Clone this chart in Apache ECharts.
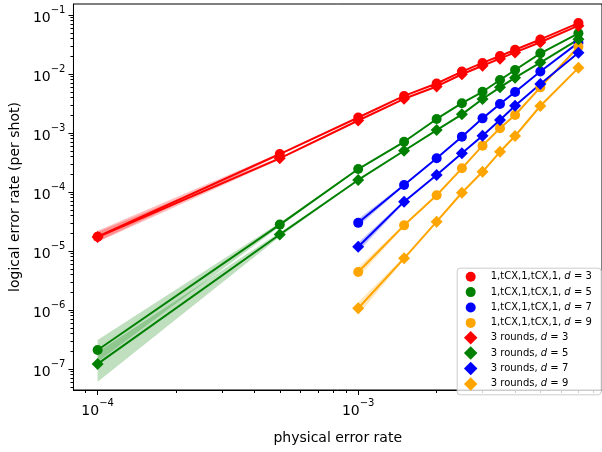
<!DOCTYPE html>
<html><head><meta charset="utf-8">
<script src="https://cdn.jsdelivr.net/npm/echarts@6/dist/echarts.min.js"></script>
<style>html,body{margin:0;padding:0;background:#fff}#c{width:602px;height:452px}</style>
</head><body><div id="c"></div>
<script>
// ---- data ----
const xAll = [1e-4, 5e-4, 1e-3, 1.5e-3, 2e-3, 2.5e-3, 3e-3, 3.5e-3, 4e-3, 5e-3, 7e-3];
const xHigh = [1e-3, 1.5e-3, 2e-3, 2.5e-3, 3e-3, 3.5e-3, 4e-3, 5e-3, 7e-3];

const tcxD3 = [1.75e-5, 4.4e-4, 1.83e-3, 4.25e-3, 6.9e-3, 1.1e-2, 1.54e-2, 2.02e-2, 2.58e-2, 3.85e-2, 7.3e-2];
const tcxD5 = [2.1e-7, 2.8e-5, 2.45e-4, 7.1e-4, 1.73e-3, 3.2e-3, 5.0e-3, 7.9e-3, 1.17e-2, 2.24e-2, 4.9e-2];
const tcxD7 = [3.0e-5, 1.31e-4, 3.72e-4, 8.67e-4, 1.77e-3, 3.1e-3, 4.96e-3, 1.1e-2, 3.4e-2];
const tcxD9 = [4.4e-6, 2.72e-5, 8.8e-5, 2.52e-4, 6.1e-4, 1.2e-3, 2.02e-3, 5.94e-3, 2.9e-2];

const r3D3 = [1.72e-5, 3.72e-4, 1.63e-3, 3.8e-3, 6.15e-3, 9.9e-3, 1.38e-2, 1.82e-2, 2.32e-2, 3.45e-2, 6.6e-2];
const r3D5 = [1.22e-7, 1.9e-5, 1.6e-4, 5.0e-4, 1.12e-3, 2.07e-3, 3.77e-3, 5.94e-3, 8.67e-3, 1.56e-2, 3.87e-2];
const r3D7 = [1.18e-5, 6.86e-5, 1.94e-4, 4.53e-4, 9.0e-4, 1.66e-3, 2.9e-3, 6.78e-3, 2.3e-2];
const r3D9 = [1.07e-6, 7.5e-6, 3.14e-5, 9.7e-5, 2.2e-4, 4.8e-4, 8.9e-4, 2.87e-3, 1.27e-2];

// uncertainty bands (only where visibly wider than the line)
const bandX2 = [1e-4, 5e-4];
const bandX3 = [1e-4, 5e-4, 1e-3];
const bandXh = [1e-3, 1.5e-3];
const tcxD3Lo = [1.45e-5, 4.2e-4], tcxD3Hi = [2.2e-5, 4.6e-4];
const r3D3Lo = [1.42e-5, 3.55e-4], r3D3Hi = [2.1e-5, 3.9e-4];
const tcxD5Lo = [1.33e-7, 2.6e-5, 2.4e-4], tcxD5Hi = [3.1e-7, 3.0e-5, 2.5e-4];
const r3D5Lo = [6.1e-8, 1.75e-5, 1.57e-4], r3D5Hi = [1.95e-7, 2.05e-5, 1.63e-4];
const tcxD7Lo = [2.6e-5, 1.26e-4], tcxD7Hi = [3.5e-5, 1.36e-4];
const r3D7Lo = [9.8e-6, 6.5e-5], r3D7Hi = [1.4e-5, 7.2e-5];
const tcxD9Lo = [3.6e-6, 2.6e-5], tcxD9Hi = [5.3e-6, 2.85e-5];
const r3D9Lo = [8.2e-7, 7.1e-6], r3D9Hi = [1.35e-6, 8.0e-6];

const seriesNames = [
  '1,tCX,1,tCX,1, d = 3', '1,tCX,1,tCX,1, d = 5', '1,tCX,1,tCX,1, d = 7', '1,tCX,1,tCX,1, d = 9',
  '3 rounds, d = 3', '3 rounds, d = 5', '3 rounds, d = 7', '3 rounds, d = 9'
];
const xTickValues = [1e-4, 1e-3];
const xTickExps = ['−4', '−3'];
const yTickValues = [1e-7, 1e-6, 1e-5, 1e-4, 1e-3, 1e-2, 1e-1];
const yTickExps = ['−7', '−6', '−5', '−4', '−3', '−2', '−1'];
const xLabel = 'physical error rate';
const yLabel = 'logical error rate (per shot)';

// ---- chart ----
const FONT = 'DejaVu Sans';
const colors = ['#ff0000', '#008000', '#0000ff', '#ffa500'];
const xMin = Math.pow(10, -4.0928), xMax = Math.pow(10, -2.0644);
const yMin = Math.pow(10, -7.356), yMax = Math.pow(10, -0.8136);

function minorTicks(lo, hi) {
  const out = [];
  for (let e = Math.floor(Math.log10(lo)); e <= Math.ceil(Math.log10(hi)); e++) {
    for (let m = 2; m <= 9; m++) {
      const v = m * Math.pow(10, e);
      if (v >= lo && v <= hi) out.push(v);
    }
  }
  return out;
}
const tickRich = {
  b: {fontFamily: FONT, fontSize: 14, color: '#000', lineHeight: 20, verticalAlign: 'bottom'},
  s: {fontFamily: FONT, fontSize: 10, color: '#000', lineHeight: 20, verticalAlign: 'top'}
};
function makeFmt(vals, exps) {
  return function (v) {
    let k = 0, best = Infinity;
    vals.forEach((t, i) => { const d = Math.abs(Math.log10(t) - Math.log10(v)); if (d < best) { best = d; k = i; } });
    return '{b|10}{s|' + exps[k] + '}';
  };
}

function lineSeries(name, xs, ys, color, symbol, size) {
  return {
    type: 'line', name: name, data: xs.map((x, i) => [x, ys[i]]),
    symbol: symbol, symbolSize: size, showSymbol: true,
    lineStyle: {color: color, width: 2}, itemStyle: {color: color},
    emphasis: {disabled: true}, z: 3
  };
}
function bandSeries(xs, lo, hi, color) {
  return {
    type: 'custom', name: 'band', coordinateSystem: 'cartesian2d', silent: true, z: 2,
    data: [[xs[0], lo[0]]],
    renderItem: function (params, api) {
      const pts = [];
      for (let i = 0; i < xs.length; i++) pts.push(api.coord([xs[i], hi[i]]));
      for (let i = xs.length - 1; i >= 0; i--) pts.push(api.coord([xs[i], lo[i]]));
      return {type: 'polygon', shape: {points: pts}, style: {fill: color, opacity: 0.25}};
    }
  };
}
function legRich(pad) {
  return {
    f: {fontFamily: FONT, fontSize: 10, lineHeight: 14, color: '#000', padding: [0, 0, 0, pad]},
    n: {fontFamily: FONT, fontSize: 10, lineHeight: 14, color: '#000'},
    i: {fontFamily: FONT, fontSize: 10, lineHeight: 14, color: '#000', fontStyle: 'italic'}
  };
}
function legFmt(name) {
  const p = name.split(' d = ');
  return '{f|' + p[0] + ' }{i|d}{n| = ' + p[1] + '}';
}

const option = {
  animation: false,
  backgroundColor: '#fff',
  grid: {left: 73, top: 4, width: 530, height: 386, show: true, borderColor: '#000', borderWidth: 1, backgroundColor: 'transparent'},
  xAxis: [{
    type: 'log', min: xMin, max: xMax, gridIndex: 0,
    name: xLabel, nameLocation: 'middle', nameGap: 41,
    nameTextStyle: {fontFamily: FONT, fontSize: 14, color: '#000'},
    axisLine: {show: true, lineStyle: {color: '#000', width: 1}},
    axisTick: {show: true, length: 5, customValues: xTickValues, lineStyle: {color: '#000', width: 1}},
    axisLabel: {show: true, customValues: xTickValues, margin: 8, formatter: makeFmt(xTickValues, xTickExps), rich: tickRich},
    splitLine: {show: false}
  }, {
    type: 'log', min: xMin, max: xMax, gridIndex: 0, position: 'bottom',
    axisLine: {show: false},
    axisTick: {show: true, length: 3, customValues: minorTicks(xMin, xMax), lineStyle: {color: '#000', width: 1}},
    axisLabel: {show: false}, splitLine: {show: false}
  }],
  yAxis: [{
    type: 'log', min: yMin, max: yMax, gridIndex: 0,
    name: yLabel, nameLocation: 'middle', nameGap: 50,
    nameTextStyle: {fontFamily: FONT, fontSize: 14, color: '#000'},
    axisLine: {show: true, lineStyle: {color: '#000', width: 1}},
    axisTick: {show: true, length: 5, customValues: yTickValues, lineStyle: {color: '#000', width: 1}},
    axisLabel: {show: true, customValues: yTickValues, margin: 8, formatter: makeFmt(yTickValues, yTickExps), rich: tickRich},
    splitLine: {show: false}
  }, {
    type: 'log', min: yMin, max: yMax, gridIndex: 0, position: 'left',
    axisLine: {show: false},
    axisTick: {show: true, length: 3, customValues: minorTicks(yMin, yMax), lineStyle: {color: '#000', width: 1}},
    axisLabel: {show: false}, splitLine: {show: false}
  }],
  legend: [{
    orient: 'vertical', left: 465.7, top: 269.7, padding: 0, itemGap: 1.4,
    itemWidth: 10, itemHeight: 10,
    data: seriesNames.slice(0, 4).map(n => ({name: n, icon: 'circle'})),
    formatter: legFmt, textStyle: {fontFamily: FONT, fontSize: 10, lineHeight: 14, rich: legRich(10)},
    selectedMode: false
  }, {
    orient: 'vertical', left: 463.95, top: 330.7, padding: 0, itemGap: 1.4,
    itemWidth: 13.5, itemHeight: 13.5,
    data: seriesNames.slice(4).map(n => ({name: n, icon: 'diamond'})),
    formatter: legFmt, textStyle: {fontFamily: FONT, fontSize: 10, lineHeight: 14, rich: legRich(8.25)},
    selectedMode: false
  }],
  graphic: {elements: [{
    type: 'rect', z: 3, left: 456.7, top: 267.7,
    shape: {width: 144, height: 126.6, r: 3},
    style: {fill: 'rgba(255,255,255,0.8)', stroke: '#cccccc', lineWidth: 1}
  }]},
  series: [
    bandSeries(bandX2, tcxD3Lo, tcxD3Hi, colors[0]),
    bandSeries(bandX3, tcxD5Lo, tcxD5Hi, colors[1]),
    bandSeries(bandXh, tcxD7Lo, tcxD7Hi, colors[2]),
    bandSeries(bandXh, tcxD9Lo, tcxD9Hi, colors[3]),
    bandSeries(bandX2, r3D3Lo, r3D3Hi, colors[0]),
    bandSeries(bandX3, r3D5Lo, r3D5Hi, colors[1]),
    bandSeries(bandXh, r3D7Lo, r3D7Hi, colors[2]),
    bandSeries(bandXh, r3D9Lo, r3D9Hi, colors[3]),
    lineSeries(seriesNames[0], xAll, tcxD3, colors[0], 'circle', 10),
    lineSeries(seriesNames[1], xAll, tcxD5, colors[1], 'circle', 10),
    lineSeries(seriesNames[2], xHigh, tcxD7, colors[2], 'circle', 10),
    lineSeries(seriesNames[3], xHigh, tcxD9, colors[3], 'circle', 10),
    lineSeries(seriesNames[4], xAll, r3D3, colors[0], 'diamond', 12),
    lineSeries(seriesNames[5], xAll, r3D5, colors[1], 'diamond', 12),
    lineSeries(seriesNames[6], xHigh, r3D7, colors[2], 'diamond', 12),
    lineSeries(seriesNames[7], xHigh, r3D9, colors[3], 'diamond', 12)
  ]
};
const chart = echarts.init(document.getElementById('c'), null, {renderer: 'canvas'});
chart.setOption(option);
</script>
</body></html>
